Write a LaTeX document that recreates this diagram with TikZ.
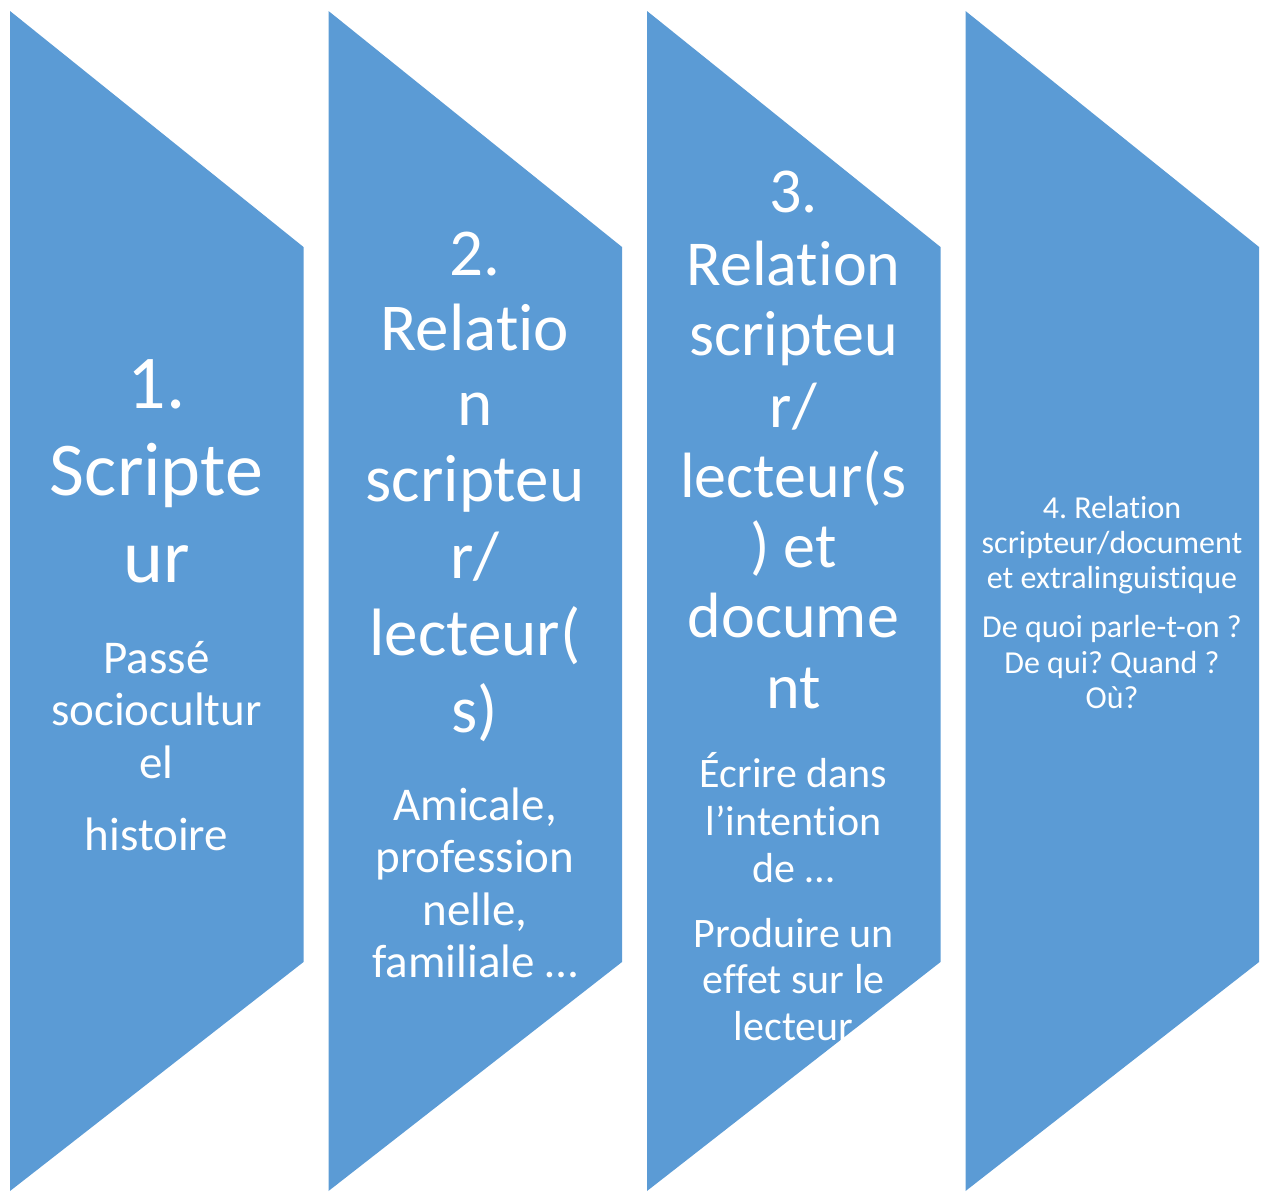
\documentclass[tikz,border=0pt]{standalone}
\usepackage{fontspec}
\setmainfont[Ligatures={NoCommon,NoContextual},Contextuals={NoAlternate}]{Carlito}
\frenchspacing
\definecolor{chevblue}{HTML}{5B9BD5}
\tikzset{
  chev/.style={fill=chevblue, draw=none},
  line/.style={anchor=base, inner sep=0pt, text=white},
  headA/.style={line, font=\fontsize{76}{80}\selectfont},
  headB/.style={line, font=\fontsize{67}{70}\selectfont},
  headC/.style={line, font=\fontsize{64}{68}\selectfont},
  subA/.style={line, font=\fontsize{47}{50}\selectfont},
  subC/.style={line, font=\fontsize{42}{45}\selectfont},
  textD/.style={line, font=\fontsize{32}{35}\selectfont},
}
\begin{document}
\begin{tikzpicture}[x=1pt, y=-1pt]
\useasboundingbox (0,0) rectangle (1265,1191);

% four notched panels
\foreach \L [count=\k] in {10, 328.5, 647, 965.5} {
  \fill[chev] (\L,11) -- (\L+293.5,247) -- (\L+293.5,962) -- (\L,1191) -- cycle;
}

% panel 1
\foreach \y/\t [count=\k] in {408/{1.}, 495/{Scripte}, 582/{ur}}
  \node[headA] (pa\k) at (156.5,\y) {\t};
\foreach \y/\t [count=\k] in {673/{Passé}, 725/{sociocultur}, 778/{el}, 850/{histoire}}
  \node[subA] (pas\k) at (156.5,\y) {\t};

% panel 2
\foreach \y/\t [count=\k] in {275/{2.}, 350/{Relatio}, 425/{n}, 501/{scripteu}, 578/{r/}, 655/{lecteur(}, 732/{s)}}
  \node[headB] (pb\k) at (475,\y) {\t};
\foreach \y/\t [count=\k] in {820/{Amicale,}, 872/{profession}, 925/{nelle,}, 977/{familiale …}}
  \node[subA] (pbs\k) at (475,\y) {\t};

% panel 3
\foreach \y/\t [count=\k] in {212/{3.}, 285/{Relation}, 355/{scripteu}, 427/{r/}, 497/{lecteur(s}, 567/{) et}, 637/{docume}, 708/{nt}}
  \node[headC] (pc\k) at (793.5,\y) {\t};
\foreach \y/\t [count=\k] in {787/{Écrire dans}, 835/{l’intention}, 882/{de …}, 947/{Produire un}, 993/{effet sur le}, 1040/{lecteur}}
  \node[subC] (pcs\k) at (793.5,\y) {\t};

% panel 4
\foreach \y/\t [count=\k] in {518/{4. Relation}, 553/{scripteur/document}, 588/{et extralinguistique}, 637/{De quoi parle-t-on ?}, 673/{De qui? Quand ?}, 708/{Où?}}
  \node[textD] (pd\k) at (1112,\y) {\t};
\end{tikzpicture}
\end{document}
